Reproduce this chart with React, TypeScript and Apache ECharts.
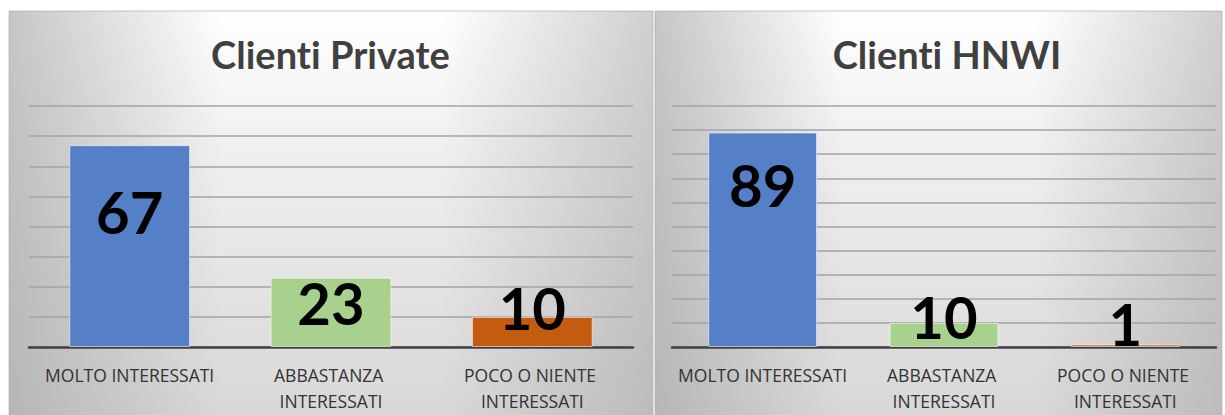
import React, { useEffect, useRef } from "react";
import * as echarts from "echarts";

const categories = ["MOLTO INTERESSATI", "ABBASTANZA INTERESSATI", "POCO O NIENTE INTERESSATI"];
const privateValues = [67, 23, 10];
const hnwiValues = [89, 10, 1];
const titles = ["Clienti Private", "Clienti HNWI"];
const privateMax = 80;
const hnwiMax = 100;
const tickStep = 10;

const barColors = ["#5580C8", "#A9D18E", "#C55A11"];
// vertical shift (px) of each value label from its bar centre
const privateLabelShift = [-35, -10, -24.5];
const hnwiLabelShift = [-55, -18.5, -22];

const FONT = "Lato, 'Open Sans', sans-serif";
const LABEL_FONT = "'Open Sans', Lato, sans-serif";

function panelBg(x: number, y: number, w: number, h: number) {
  return [
    {
      type: "rect",
      z: -20,
      shape: { x, y, width: w, height: h },
      style: {
        fill: new echarts.graphic.LinearGradient(0, 0, 0, 1, [
          { offset: 0, color: "#ffffff" },
          { offset: 0.3, color: "#f1f1f1" },
          { offset: 1, color: "#d6d6d6" },
        ]),
        stroke: "#c8c8c8",
        lineWidth: 1,
      },
      silent: true,
    },
    {
      type: "rect",
      z: -19,
      shape: { x, y, width: w, height: h },
      style: {
        fill: new echarts.graphic.LinearGradient(0, 0, 1, 0, [
          { offset: 0, color: "rgba(160,160,160,0.6)" },
          { offset: 0.33, color: "rgba(160,160,160,0)" },
          { offset: 0.67, color: "rgba(160,160,160,0)" },
          { offset: 1, color: "rgba(160,160,160,0.5)" },
        ]),
      },
      silent: true,
    },
  ];
}

function titleText(text: string, x: number, y: number) {
  return {
    type: "text",
    z: 10,
    x,
    y,
    style: {
      text,
      fill: "#404040",
      font: `bold 38px ${FONT}`,
      textAlign: "center",
      textVerticalAlign: "middle",
      align: "center",
      verticalAlign: "middle",
    },
    silent: true,
  };
}

function barData(values: number[], shifts: number[]) {
  return values.map((v, i) => ({
    value: v,
    itemStyle: { color: barColors[i] },
    label: { offset: [0, shifts[i]] },
  }));
}

export default function App() {
  const ref = useRef<HTMLDivElement>(null);

  useEffect(() => {
    if (!ref.current) return;
    const chart = echarts.init(ref.current, null, { renderer: "svg" });

    const xAxisBase = {
      type: "category",
      data: categories,
      axisTick: { show: false },
      axisLine: { show: true, lineStyle: { color: "#404040", width: 2.5 } },
      axisLabel: {
        interval: 0,
        color: "#333333",
        fontFamily: LABEL_FONT,
        fontSize: 17.5,
        lineHeight: 26,
        margin: 15,
        width: 180,
        overflow: "break",
      },
    };
    const yAxisBase = {
      type: "value",
      min: 0,
      interval: tickStep,
      axisLabel: { show: false },
      axisLine: { show: false },
      axisTick: { show: false },
      splitLine: { show: true, lineStyle: { color: "#a3a3a3", width: 1.5 } },
    };
    const labelBase = {
      show: true,
      position: "inside",
      color: "#000000",
      fontFamily: FONT,
      fontWeight: "bold",
      fontSize: 58,
    };

    chart.setOption({
      animation: false,
      backgroundColor: "#ffffff",
      graphic: [
        ...panelBg(9, 11, 644, 420),
        ...panelBg(655, 11, 567, 420),
        titleText(titles[0], 330.5, 54),
        titleText(titles[1], 947, 54),
      ],
      grid: [
        { left: 29, top: 106, width: 604, height: 241 },
        { left: 672, top: 106, width: 544, height: 241 },
      ],
      xAxis: [
        { ...xAxisBase, gridIndex: 0 },
        { ...xAxisBase, gridIndex: 1 },
      ],
      yAxis: [
        { ...yAxisBase, gridIndex: 0, max: privateMax },
        { ...yAxisBase, gridIndex: 1, max: hnwiMax },
      ],
      series: [
        {
          type: "bar",
          xAxisIndex: 0,
          yAxisIndex: 0,
          barWidth: "60%",
          data: barData(privateValues, privateLabelShift),
          itemStyle: { borderColor: "rgba(255,255,255,0.55)", borderWidth: 1 },
          label: labelBase,
        },
        {
          type: "bar",
          xAxisIndex: 1,
          yAxisIndex: 1,
          barWidth: "60%",
          data: barData(hnwiValues, hnwiLabelShift),
          itemStyle: { borderColor: "rgba(255,255,255,0.55)", borderWidth: 1 },
          label: labelBase,
        },
      ],
    });

    return () => chart.dispose();
  }, []);

  return (
    <>
      <style>{"svg text{font-variant-ligatures:none;font-feature-settings:'liga' 0,'dlig' 0,'clig' 0;letter-spacing:0.01px;}"}</style>
      <div
        ref={ref}
        style={{ position: "absolute", left: 0, top: 0, width: 1225, height: 415 }}
      />
    </>
  );
}
